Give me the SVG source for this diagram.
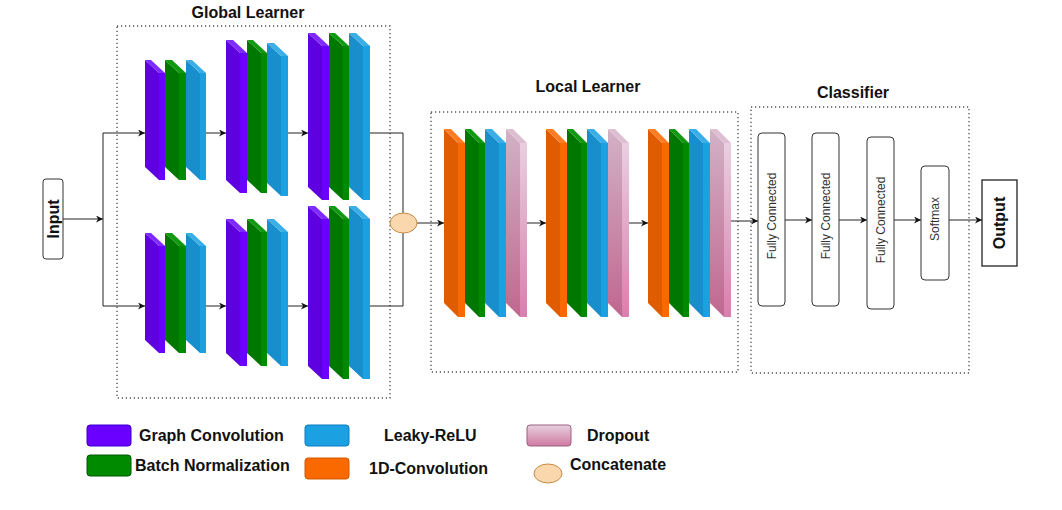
<svg xmlns="http://www.w3.org/2000/svg" width="1062" height="510" viewBox="0 0 1062 510">
<defs>
<style>
.t{font-family:"Liberation Sans",Arial,sans-serif;fill:#111}
.title{font-size:16px;font-weight:bold;text-anchor:middle}
.leg{font-size:16px;font-weight:bold}
.rot{font-size:12px;fill:#333;text-anchor:middle;dominant-baseline:central}
.io{font-size:16px;font-weight:bold;text-anchor:middle;dominant-baseline:central}
.box{fill:none;stroke:#555;stroke-width:1.4;stroke-dasharray:1.2 2.8}
.ps{fill:#5e00e0}.pt{fill:#7f2bff}.pf{fill:#6a00ff}
.gs{fill:#007800}.gt{fill:#119a11}.gf{fill:#008a00}
.bs{fill:#188ecc}.bt{fill:#3aaee6}.bf{fill:#1ba1e2}
.os{fill:#e05c00}.ot{fill:#ff7d22}.of{fill:#fa6800}
.ks{fill:url(#pinkSide)}.kt{fill:#ddbfd1}.kf{fill:url(#pinkFront)}
.layer{fill:#fff;stroke:#333;stroke-width:1}
.conn{fill:none;stroke:#222;stroke-width:1}
</style>
<linearGradient id="pinkSide" x1="0" y1="0" x2="0" y2="1"><stop offset="0" stop-color="#d2b1c6"/><stop offset="1" stop-color="#c06790"/></linearGradient>
<linearGradient id="pinkFront" x1="0" y1="0" x2="0" y2="1"><stop offset="0" stop-color="#e9cfe0"/><stop offset="1" stop-color="#d97fad"/></linearGradient>
<linearGradient id="pinkLeg" x1="0" y1="0" x2="0" y2="1"><stop offset="0" stop-color="#e6d0de"/><stop offset="1" stop-color="#d07aa2"/></linearGradient>
<marker id="arr" viewBox="0 0 10 10" refX="10" refY="5" markerWidth="7" markerHeight="7" markerUnits="userSpaceOnUse" orient="auto"><path d="M0,0 L10,5 L0,10 L3,5 z" fill="#111"/></marker>
</defs>
<rect width="1062" height="510" fill="#fff"/>

<!-- containers -->
<g id="global-learner">
<rect class="box" x="117" y="26" width="273" height="372"/>
<text class="t title" x="248" y="18">Global Learner</text>
</g>
<g id="local-learner">
<rect class="box" x="431" y="112" width="307" height="260"/>
<text class="t title" x="588" y="92">Local Learner</text>
</g>
<g id="classifier">
<rect class="box" x="751" y="107" width="218" height="266"/>
<text class="t title" x="853" y="98">Classifier</text>
</g>

<!-- connectors -->
<g id="connectors">
<path class="conn" d="M63,219 H103" marker-end="url(#arr)"/>
<path class="conn" d="M103,306 V133"/>
<path class="conn" d="M103,133 H145" marker-end="url(#arr)"/>
<path class="conn" d="M103,306 H145" marker-end="url(#arr)"/>
<path class="conn" d="M206,133 H226" marker-end="url(#arr)"/>
<path class="conn" d="M288,133 H308" marker-end="url(#arr)"/>
<path class="conn" d="M206,306 H226" marker-end="url(#arr)"/>
<path class="conn" d="M288,306 H308" marker-end="url(#arr)"/>
<path class="conn" d="M370,133 H403 V213"/>
<path class="conn" d="M370,306 H403 V233"/>
<path class="conn" d="M417,223 H444" marker-end="url(#arr)"/>
<path class="conn" d="M527,223 H546" marker-end="url(#arr)"/>
<path class="conn" d="M629,223 H648" marker-end="url(#arr)"/>
<path class="conn" d="M731,221 H758" marker-end="url(#arr)"/>
<path class="conn" d="M785,220 H812" marker-end="url(#arr)"/>
<path class="conn" d="M839,220 H867" marker-end="url(#arr)"/>
<path class="conn" d="M894,220 H921" marker-end="url(#arr)"/>
<path class="conn" d="M949,220 H982" marker-end="url(#arr)"/>
</g>

<!-- input -->
<g id="input">
<rect class="layer" x="43" y="179" width="20" height="80" rx="3"/>
<text class="t io" transform="translate(53,219) rotate(-90)">Input</text>
</g>

<!-- global learner top branch -->
<g id="g-top-1">
<polygon class="ps" points="145,60 159,73 159,180 145,167"/><polygon class="pt" points="145,60 151,60 165,73 159,73"/><rect class="pf" x="159" y="73" width="6" height="107"/>
<polygon class="gs" points="165,60 179,73 179,180 165,167"/><polygon class="gt" points="165,60 172,60 186,73 179,73"/><rect class="gf" x="179" y="73" width="7" height="107"/>
<polygon class="bs" points="186,60 200,73 200,180 186,167"/><polygon class="bt" points="186,60 192,60 206,73 200,73"/><rect class="bf" x="200" y="73" width="6" height="107"/>
</g>
<g id="g-top-2">
<polygon class="ps" points="226,40 240,53 240,193 226,180"/><polygon class="pt" points="226,40 233,40 247,53 240,53"/><rect class="pf" x="240" y="53" width="7" height="140"/>
<polygon class="gs" points="247,40 261,53 261,193 247,180"/><polygon class="gt" points="247,40 253,40 267,53 261,53"/><rect class="gf" x="261" y="53" width="6" height="140"/>
<polygon class="bs" points="267,43 281,56 281,196 267,183"/><polygon class="bt" points="267,43 274,43 288,56 281,56"/><rect class="bf" x="281" y="56" width="7" height="140"/>
</g>
<g id="g-top-3">
<polygon class="ps" points="308,33 322,46 322,200 308,187"/><polygon class="pt" points="308,33 315,33 329,46 322,46"/><rect class="pf" x="322" y="46" width="7" height="154"/>
<polygon class="gs" points="329,33 343,46 343,200 329,187"/><polygon class="gt" points="329,33 335,33 349,46 343,46"/><rect class="gf" x="343" y="46" width="6" height="154"/>
<polygon class="bs" points="349,33 363,46 363,200 349,187"/><polygon class="bt" points="349,33 356,33 370,46 363,46"/><rect class="bf" x="363" y="46" width="7" height="154"/>
</g>

<!-- global learner bottom branch -->
<g id="g-bot-1">
<polygon class="ps" points="145,233 159,246 159,353 145,340"/><polygon class="pt" points="145,233 151,233 165,246 159,246"/><rect class="pf" x="159" y="246" width="6" height="107"/>
<polygon class="gs" points="165,233 179,246 179,353 165,340"/><polygon class="gt" points="165,233 172,233 186,246 179,246"/><rect class="gf" x="179" y="246" width="7" height="107"/>
<polygon class="bs" points="186,233 200,246 200,353 186,340"/><polygon class="bt" points="186,233 192,233 206,246 200,246"/><rect class="bf" x="200" y="246" width="6" height="107"/>
</g>
<g id="g-bot-2">
<polygon class="ps" points="226,219 240,232 240,366 226,353"/><polygon class="pt" points="226,219 233,219 247,232 240,232"/><rect class="pf" x="240" y="232" width="7" height="134"/>
<polygon class="gs" points="247,219 261,232 261,366 247,353"/><polygon class="gt" points="247,219 253,219 267,232 261,232"/><rect class="gf" x="261" y="232" width="6" height="134"/>
<polygon class="bs" points="267,219 281,232 281,366 267,353"/><polygon class="bt" points="267,219 274,219 288,232 281,232"/><rect class="bf" x="281" y="232" width="7" height="134"/>
</g>
<g id="g-bot-3">
<polygon class="ps" points="308,206 322,219 322,379 308,366"/><polygon class="pt" points="308,206 315,206 329,219 322,219"/><rect class="pf" x="322" y="219" width="7" height="160"/>
<polygon class="gs" points="329,206 343,219 343,379 329,366"/><polygon class="gt" points="329,206 335,206 349,219 343,219"/><rect class="gf" x="343" y="219" width="6" height="160"/>
<polygon class="bs" points="349,206 363,219 363,379 349,366"/><polygon class="bt" points="349,206 356,206 370,219 363,219"/><rect class="bf" x="363" y="219" width="7" height="160"/>
</g>

<!-- concatenate -->
<g id="concat">
<ellipse cx="403.5" cy="223" rx="13.5" ry="10" fill="#fad7ac" stroke="#c88a45" stroke-width="1"/>
</g>

<!-- local learner blocks -->
<g id="l-block-1">
<polygon class="os" points="444,129 458,143 458,317 444,303"/><polygon class="ot" points="444,129 451,129 465,143 458,143"/><rect class="of" x="458" y="143" width="7" height="174"/>
<polygon class="gs" points="465,129 479,143 479,317 465,303"/><polygon class="gt" points="465,129 471,129 485,143 479,143"/><rect class="gf" x="479" y="143" width="6" height="174"/>
<polygon class="bs" points="485,129 499,143 499,317 485,303"/><polygon class="bt" points="485,129 492,129 506,143 499,143"/><rect class="bf" x="499" y="143" width="7" height="174"/>
<polygon class="ks" points="506,129 520,143 520,317 506,303"/><polygon class="kt" points="506,129 513,129 527,143 520,143"/><rect class="kf" x="520" y="143" width="7" height="174"/>
</g>
<g id="l-block-2">
<polygon class="os" points="546,129 560,143 560,317 546,303"/><polygon class="ot" points="546,129 553,129 567,143 560,143"/><rect class="of" x="560" y="143" width="7" height="174"/>
<polygon class="gs" points="567,129 581,143 581,317 567,303"/><polygon class="gt" points="567,129 573,129 587,143 581,143"/><rect class="gf" x="581" y="143" width="6" height="174"/>
<polygon class="bs" points="587,129 601,143 601,317 587,303"/><polygon class="bt" points="587,129 594,129 608,143 601,143"/><rect class="bf" x="601" y="143" width="7" height="174"/>
<polygon class="ks" points="608,129 622,143 622,317 608,303"/><polygon class="kt" points="608,129 615,129 629,143 622,143"/><rect class="kf" x="622" y="143" width="7" height="174"/>
</g>
<g id="l-block-3">
<polygon class="os" points="648,129 662,143 662,317 648,303"/><polygon class="ot" points="648,129 655,129 669,143 662,143"/><rect class="of" x="662" y="143" width="7" height="174"/>
<polygon class="gs" points="669,129 683,143 683,317 669,303"/><polygon class="gt" points="669,129 675,129 689,143 683,143"/><rect class="gf" x="683" y="143" width="6" height="174"/>
<polygon class="bs" points="689,129 703,143 703,317 689,303"/><polygon class="bt" points="689,129 696,129 710,143 703,143"/><rect class="bf" x="703" y="143" width="7" height="174"/>
<polygon class="ks" points="710,129 724,143 724,317 710,303"/><polygon class="kt" points="710,129 717,129 731,143 724,143"/><rect class="kf" x="724" y="143" width="7" height="174"/>
</g>

<!-- classifier layers -->
<g id="fc-1">
<rect class="layer" x="758" y="133" width="27" height="173" rx="4"/>
<text class="t rot" transform="translate(771.5,216) rotate(-90)">Fully Connected</text>
</g>
<g id="fc-2">
<rect class="layer" x="812" y="133" width="27" height="173" rx="4"/>
<text class="t rot" transform="translate(825.5,216) rotate(-90)">Fully Connected</text>
</g>
<g id="fc-3">
<rect class="layer" x="867" y="137" width="27" height="172" rx="4"/>
<text class="t rot" transform="translate(880.5,220) rotate(-90)">Fully Connected</text>
</g>
<g id="softmax">
<rect class="layer" x="921" y="166" width="28" height="114" rx="4"/>
<text class="t rot" transform="translate(935,219) rotate(-90)">Softmax</text>
</g>
<g id="output">
<rect x="982" y="180" width="35" height="86" fill="#fff" stroke="#222" stroke-width="1.3"/>
<text class="t io" transform="translate(999.5,223) rotate(-90)">Output</text>
</g>

<!-- legend -->
<g id="legend">
<rect x="87" y="425" width="44" height="21" rx="3" fill="#6a00ff" stroke="#3700cc"/>
<text class="t leg" x="139" y="441">Graph Convolution</text>
<rect x="87" y="455" width="44" height="21" rx="3" fill="#008a00" stroke="#005700"/>
<text class="t leg" x="135" y="471">Batch Normalization</text>
<rect x="305" y="425" width="44" height="21" rx="3" fill="#1ba1e2" stroke="#0c7cbf"/>
<text class="t leg" x="384" y="441">Leaky-ReLU</text>
<rect x="305" y="458" width="44" height="21" rx="3" fill="#fa6800" stroke="#d05a00"/>
<text class="t leg" x="369" y="474">1D-Convolution</text>
<rect x="527" y="425" width="44" height="21" rx="3" fill="url(#pinkLeg)" stroke="#996185"/>
<text class="t leg" x="587" y="441">Dropout</text>
<ellipse cx="548" cy="473.5" rx="14" ry="9.5" fill="#fad7ac" stroke="#c88a45"/>
<text class="t leg" x="570" y="470">Concatenate</text>
</g>
</svg>
